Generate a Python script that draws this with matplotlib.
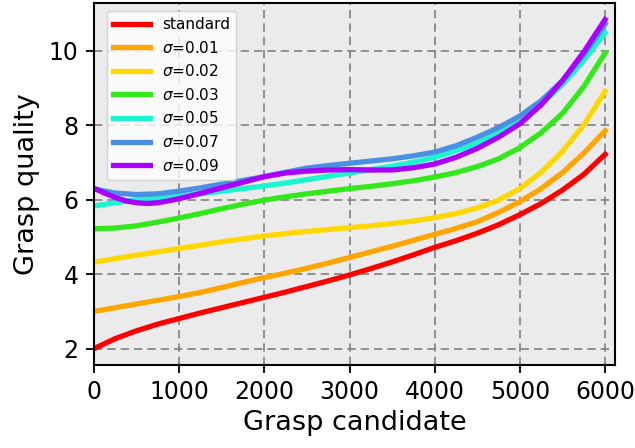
import numpy as np
import matplotlib
matplotlib.use("Agg")
import matplotlib.pyplot as plt

# grasp candidate index and grasp quality
x_q = [0, 250, 500, 750, 1000, 1250, 1500, 1750, 2000, 2250, 2500, 2750, 3000,
       3250, 3500, 3750, 4000, 4250, 4500, 4750, 5000, 5250, 5500, 5750, 6000]

q_std = [2.0, 2.27, 2.48, 2.66, 2.81, 2.96, 3.1, 3.24, 3.38, 3.52, 3.67, 3.82, 3.98,
         4.15, 4.33, 4.52, 4.72, 4.9, 5.1, 5.33, 5.6, 5.9, 6.26, 6.68, 7.22]
q_s01 = [3.0, 3.1, 3.2, 3.3, 3.4, 3.51, 3.64, 3.78, 3.91, 4.03, 4.16, 4.3, 4.45,
         4.6, 4.75, 4.91, 5.07, 5.23, 5.41, 5.66, 5.95, 6.3, 6.73, 7.25, 7.85]
q_s02 = [4.32, 4.42, 4.51, 4.6, 4.69, 4.78, 4.87, 4.95, 5.03, 5.09, 5.15, 5.2, 5.25,
         5.3, 5.36, 5.43, 5.52, 5.63, 5.78, 5.99, 6.3, 6.74, 7.3, 8.01, 8.91]
q_s03 = [5.22, 5.24, 5.3, 5.4, 5.51, 5.63, 5.76, 5.88, 5.99, 6.08, 6.16, 6.23, 6.3,
         6.36, 6.43, 6.51, 6.61, 6.73, 6.89, 7.1, 7.4, 7.8, 8.32, 9.04, 9.94]
q_s05 = [5.83, 5.92, 6.0, 6.05, 6.1, 6.16, 6.23, 6.3, 6.37, 6.45, 6.54, 6.63, 6.72,
         6.81, 6.9, 7.01, 7.14, 7.32, 7.52, 7.8, 8.14, 8.57, 9.1, 9.74, 10.49]
q_s07 = [6.29, 6.18, 6.14, 6.16, 6.23, 6.32, 6.42, 6.52, 6.62, 6.74, 6.85, 6.92, 6.98,
         7.04, 7.1, 7.18, 7.28, 7.45, 7.68, 7.94, 8.25, 8.66, 9.2, 9.9, 10.72]

x_s09 = [0, 125, 250, 375, 500, 625, 750, 875, 1000, 1250, 1500, 1750, 2000, 2250,
         2500, 2750, 3000, 3250, 3500, 3750, 4000, 4250, 4500, 4750, 5000, 5250,
         5500, 5750, 6000]
q_s09 = [6.31, 6.18, 6.06, 5.97, 5.92, 5.9, 5.92, 5.97, 6.03, 6.17, 6.32, 6.47, 6.62,
         6.72, 6.77, 6.8, 6.81, 6.8, 6.8, 6.86, 6.96, 7.14, 7.38, 7.68, 8.04, 8.55,
         9.2, 9.97, 10.84]

series = [
    (x_q, q_std, 'standard', '#ff0000'),
    (x_q, q_s01, r'$\sigma$=0.01', '#ffa500'),
    (x_q, q_s02, r'$\sigma$=0.02', '#ffd700'),
    (x_q, q_s03, r'$\sigma$=0.03', '#33e81a'),
    (x_q, q_s05, r'$\sigma$=0.05', '#1af5cd'),
    (x_q, q_s07, r'$\sigma$=0.07', '#4a90e2'),
    (x_s09, q_s09, r'$\sigma$=0.09', '#aa00ff'),
]

fig = plt.figure(figsize=(6.35, 4.48), dpi=100)
ax = fig.add_axes([0.148, 0.185, 0.821, 0.808])
ax.set_facecolor('#ebebeb')

for xs, qs, label, color in series:
    ax.plot(xs, qs, color=color, lw=3.8, label=label, solid_joinstyle='round')

ax.set_xlim(0, 6120)
ax.set_xticks([0, 1000, 2000, 3000, 4000, 5000, 6000])
ax.set_yticks([2, 4, 6, 8, 10])
ax.grid(True, ls=(0, (5, 3)), color='#808080', lw=1.2)
ax.tick_params(labelsize=17, width=1.3, length=6, pad=5)
for s in ax.spines.values():
    s.set_linewidth(1.5)
ax.set_xlabel('Grasp candidate', fontsize=19.5, labelpad=4)
ax.set_ylabel('Grasp quality', fontsize=19.5, labelpad=6)
ax.legend(loc='upper left', fontsize=11, handlelength=2.4,
          bbox_to_anchor=(0.01, 1.0), framealpha=0.8)

fig.savefig('out.png', dpi=100)
